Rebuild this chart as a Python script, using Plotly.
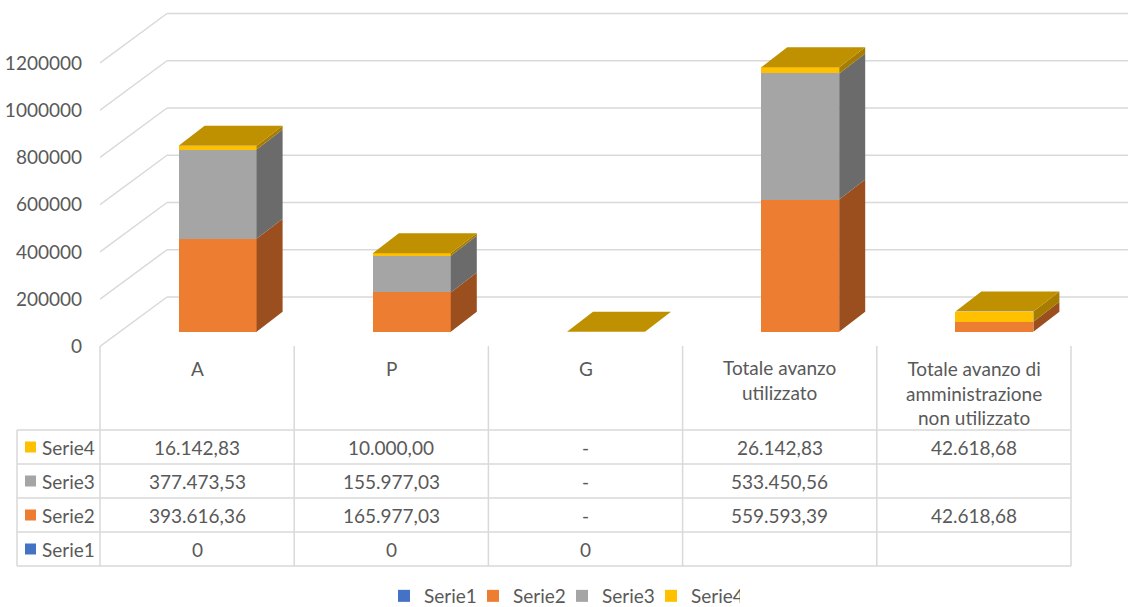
import textwrap
import plotly.graph_objects as go

# ---------------- data ----------------
categories = ["A", "P", "G", "Totale avanzo utilizzato",
              "Totale avanzo di amministrazione non utilizzato"]
series_names = ["Serie1", "Serie2", "Serie3", "Serie4"]
serie1 = [0, 0, 0, None, None]
serie2 = [393616.36, 165977.03, 0, 559593.39, 42618.68]
serie3 = [377473.53, 155977.03, 0, 533450.56, None]
serie4 = [16142.83, 10000.00, 0, 26142.83, 42618.68]
series_values = [serie1, serie2, serie3, serie4]
table_formats = ["general", "accounting", "accounting", "accounting"]
y_tick_values = [0, 200000, 400000, 600000, 800000, 1000000, 1200000]

# ---------------- style ----------------
FONT = "Lato"
FONT_SIZE = 19
TEXT_COLOR = "#595959"
GRID_COLOR = "#D9D9D9"
front_colors = ["#4472C4", "#ED7D31", "#A5A5A5", "#FFC000"]
side_colors = ["#2F528F", "#9C4F1E", "#6B6B6B", "#A67D00"]
top_colors = ["#3A63AB", "#C4621F", "#8C8C8C", "#BF9000"]

W, H = 1128, 607

# geometry in page pixels
PLOT_L, PLOT_R = 100, 1128
PLOT_T, PLOT_B = 0, 352
ZERO_PX = 346.5               # pixel row of the front floor edge (value 0)
CAT_PX = 194.2                # pixels per category
VAL_PX = 47.25 / 200000       # pixels per value unit

FLOOR_DX_PX, FLOOR_DY_PX = 67, 49.5
BAR_SHIFT_DX_PX, BAR_SHIFT_DY_PX = 20.5, 14.8
BAR_W_PX = 78
BAR_DEPTH_DX_PX, BAR_DEPTH_DY_PX = 26, 20

TABLE_LEFT_PX = 17
HEADER_TOP_PX = 346
ROW_TOPS_PX = [430, 464, 498, 532, 566]
LEGEND_Y_PX = 596
LEGEND_X_PX = 562


def xu(px):
    return px / CAT_PX


def yu(px):
    return px / VAL_PX


def paper_x(px):
    return (px - PLOT_L) / (PLOT_R - PLOT_L)


def paper_y(py):
    return (PLOT_B - py) / (PLOT_B - PLOT_T)


x_range = [0, xu(PLOT_R - PLOT_L)]
y_range = [yu(ZERO_PX - PLOT_B), yu(ZERO_PX - PLOT_T)]

fig = go.Figure()
n = len(categories)

# ---------------- walls / gridlines ----------------
fdx, fdy = xu(FLOOR_DX_PX), yu(FLOOR_DY_PX)
shapes = []
for v in y_tick_values:
    shapes.append(dict(type="line", xref="x", yref="y", x0=0, y0=v,
                       x1=fdx, y1=v + fdy, layer="below",
                       line=dict(color=GRID_COLOR, width=1.5)))
    shapes.append(dict(type="line", xref="x", yref="y", x0=fdx, y0=v + fdy,
                       x1=x_range[1] + 1, y1=v + fdy, layer="below",
                       line=dict(color=GRID_COLOR, width=1.5)))

# ---------------- 3D stacked columns ----------------
bar_x = [i + 0.5 + xu(BAR_SHIFT_DX_PX) for i in range(n)]
bar_w = xu(BAR_W_PX)
base_off = yu(BAR_SHIFT_DY_PX)
ddx, ddy = xu(BAR_DEPTH_DX_PX), yu(BAR_DEPTH_DY_PX)

cum = [0.0] * n
top_series = [None] * n
side_traces = []
for s, (name, vals) in enumerate(zip(series_names, series_values)):
    bases, heights = [], []
    sx, sy = [], []
    for i, v in enumerate(vals):
        if v is None:
            bases.append(0)
            heights.append(None)
            continue
        y0 = cum[i] + base_off
        bases.append(y0)
        heights.append(v)
        if v > 0:
            xr = bar_x[i] + bar_w / 2
            y1 = y0 + v
            sx += [xr, xr + ddx, xr + ddx, xr, xr, None]
            sy += [y0, y0 + ddy, y1 + ddy, y1, y0, None]
        cum[i] += v
        top_series[i] = s
    fig.add_trace(go.Bar(x=bar_x, y=heights, base=bases, width=bar_w,
                         name=name, hoverinfo="skip",
                         marker=dict(color=front_colors[s], line=dict(width=0))))
    if sx:
        side_traces.append(go.Scatter(x=sx, y=sy, mode="lines", fill="toself",
                                      fillcolor=side_colors[s],
                                      line=dict(width=0, color=side_colors[s]),
                                      showlegend=False, hoverinfo="skip"))

for tr in side_traces:
    fig.add_trace(tr)

for i in range(n):
    s = top_series[i]
    if s is None:
        continue
    yt = cum[i] + base_off
    xl, xr = bar_x[i] - bar_w / 2, bar_x[i] + bar_w / 2
    fig.add_trace(go.Scatter(
        x=[xl, xr, xr + ddx, xl + ddx, xl],
        y=[yt, yt, yt + ddy, yt + ddy, yt],
        mode="lines", fill="toself", fillcolor=top_colors[s],
        line=dict(width=0, color=top_colors[s]),
        showlegend=False, hoverinfo="skip"))

# ---------------- data table ----------------
def fmt_cell(v, style):
    if v is None:
        return ""
    if style == "general":
        return f"{v:g}"
    if v == 0:
        return "-"
    s = f"{v:,.2f}"
    return s.replace(",", "X").replace(".", ",").replace("X", ".")


col_edges_px = [PLOT_L + i * CAT_PX for i in range(n + 1)]
tline = dict(color=GRID_COLOR, width=1.5)
for xe in col_edges_px:
    shapes.append(dict(type="line", xref="paper", yref="paper",
                       x0=paper_x(xe), x1=paper_x(xe),
                       y0=paper_y(HEADER_TOP_PX), y1=paper_y(ROW_TOPS_PX[-1]),
                       line=tline))
shapes.append(dict(type="line", xref="paper", yref="paper",
                   x0=paper_x(TABLE_LEFT_PX), x1=paper_x(TABLE_LEFT_PX),
                   y0=paper_y(ROW_TOPS_PX[0]), y1=paper_y(ROW_TOPS_PX[-1]),
                   line=tline))
for yr in ROW_TOPS_PX:
    shapes.append(dict(type="line", xref="paper", yref="paper",
                       x0=paper_x(TABLE_LEFT_PX), x1=paper_x(col_edges_px[-1]),
                       y0=paper_y(yr), y1=paper_y(yr), line=tline))

annotations = []
tfont = dict(family=FONT, size=FONT_SIZE, color=TEXT_COLOR)
# header
for i, cat in enumerate(categories):
    lines = textwrap.wrap(cat, 16)
    cy = 368 + (len(lines) - 1) * 12.3
    annotations.append(dict(text="<br>".join(lines), xref="x", yref="paper",
                            x=i + 0.5, y=paper_y(cy), showarrow=False,
                            xanchor="center", yanchor="middle", font=tfont))
# rows (Serie4 on top)
row_order = list(range(len(series_names)))[::-1]
for r, s in enumerate(row_order):
    cy = (ROW_TOPS_PX[r] + ROW_TOPS_PX[r + 1]) / 2
    shapes.append(dict(type="rect", xref="paper", yref="paper",
                       x0=paper_x(25), x1=paper_x(36),
                       y0=paper_y(cy + 5.5), y1=paper_y(cy - 5.5),
                       fillcolor=front_colors[s], line=dict(width=0)))
    annotations.append(dict(text=series_names[s], xref="paper", yref="paper",
                            x=paper_x(40), y=paper_y(cy), showarrow=False,
                            xanchor="left", yanchor="middle", font=tfont))
    for i, v in enumerate(series_values[s]):
        txt = fmt_cell(v, table_formats[s])
        if txt:
            annotations.append(dict(text=txt, xref="x", yref="paper",
                                    x=i + 0.5, y=paper_y(cy), showarrow=False,
                                    xanchor="center", yanchor="middle",
                                    font=tfont))

fig.update_layout(
    width=W, height=H, autosize=False,
    margin=dict(l=PLOT_L, r=W - PLOT_R, t=PLOT_T, b=H - PLOT_B, pad=0,
                autoexpand=False),
    paper_bgcolor="white", plot_bgcolor="white",
    barmode="overlay", bargap=0,
    shapes=shapes, annotations=annotations,
    font=dict(family=FONT, size=FONT_SIZE, color=TEXT_COLOR),
    xaxis=dict(range=x_range, visible=False, fixedrange=True),
    yaxis=dict(range=y_range, tickvals=y_tick_values,
               ticktext=[str(v) for v in y_tick_values],
               showgrid=False, zeroline=False, showline=False, ticks="",
               ticklabelstandoff=17, automargin=False, fixedrange=True,
               tickfont=dict(family=FONT, size=FONT_SIZE, color=TEXT_COLOR)),
    legend=dict(orientation="h", xref="container", yref="container",
                x=(LEGEND_X_PX) / W, xanchor="center",
                y=1 - LEGEND_Y_PX / H, yanchor="middle", itemwidth=30,
                entrywidth=44, entrywidthmode="pixels",
                traceorder="normal", bgcolor="rgba(0,0,0,0)",
                font=dict(family=FONT, size=FONT_SIZE, color=TEXT_COLOR)),
    showlegend=True,
)

fig.write_html("out.html", config={"displayModeBar": False},
               post_script="document.body.style.margin='0';"
                           "document.body.style.overflow='hidden';")
